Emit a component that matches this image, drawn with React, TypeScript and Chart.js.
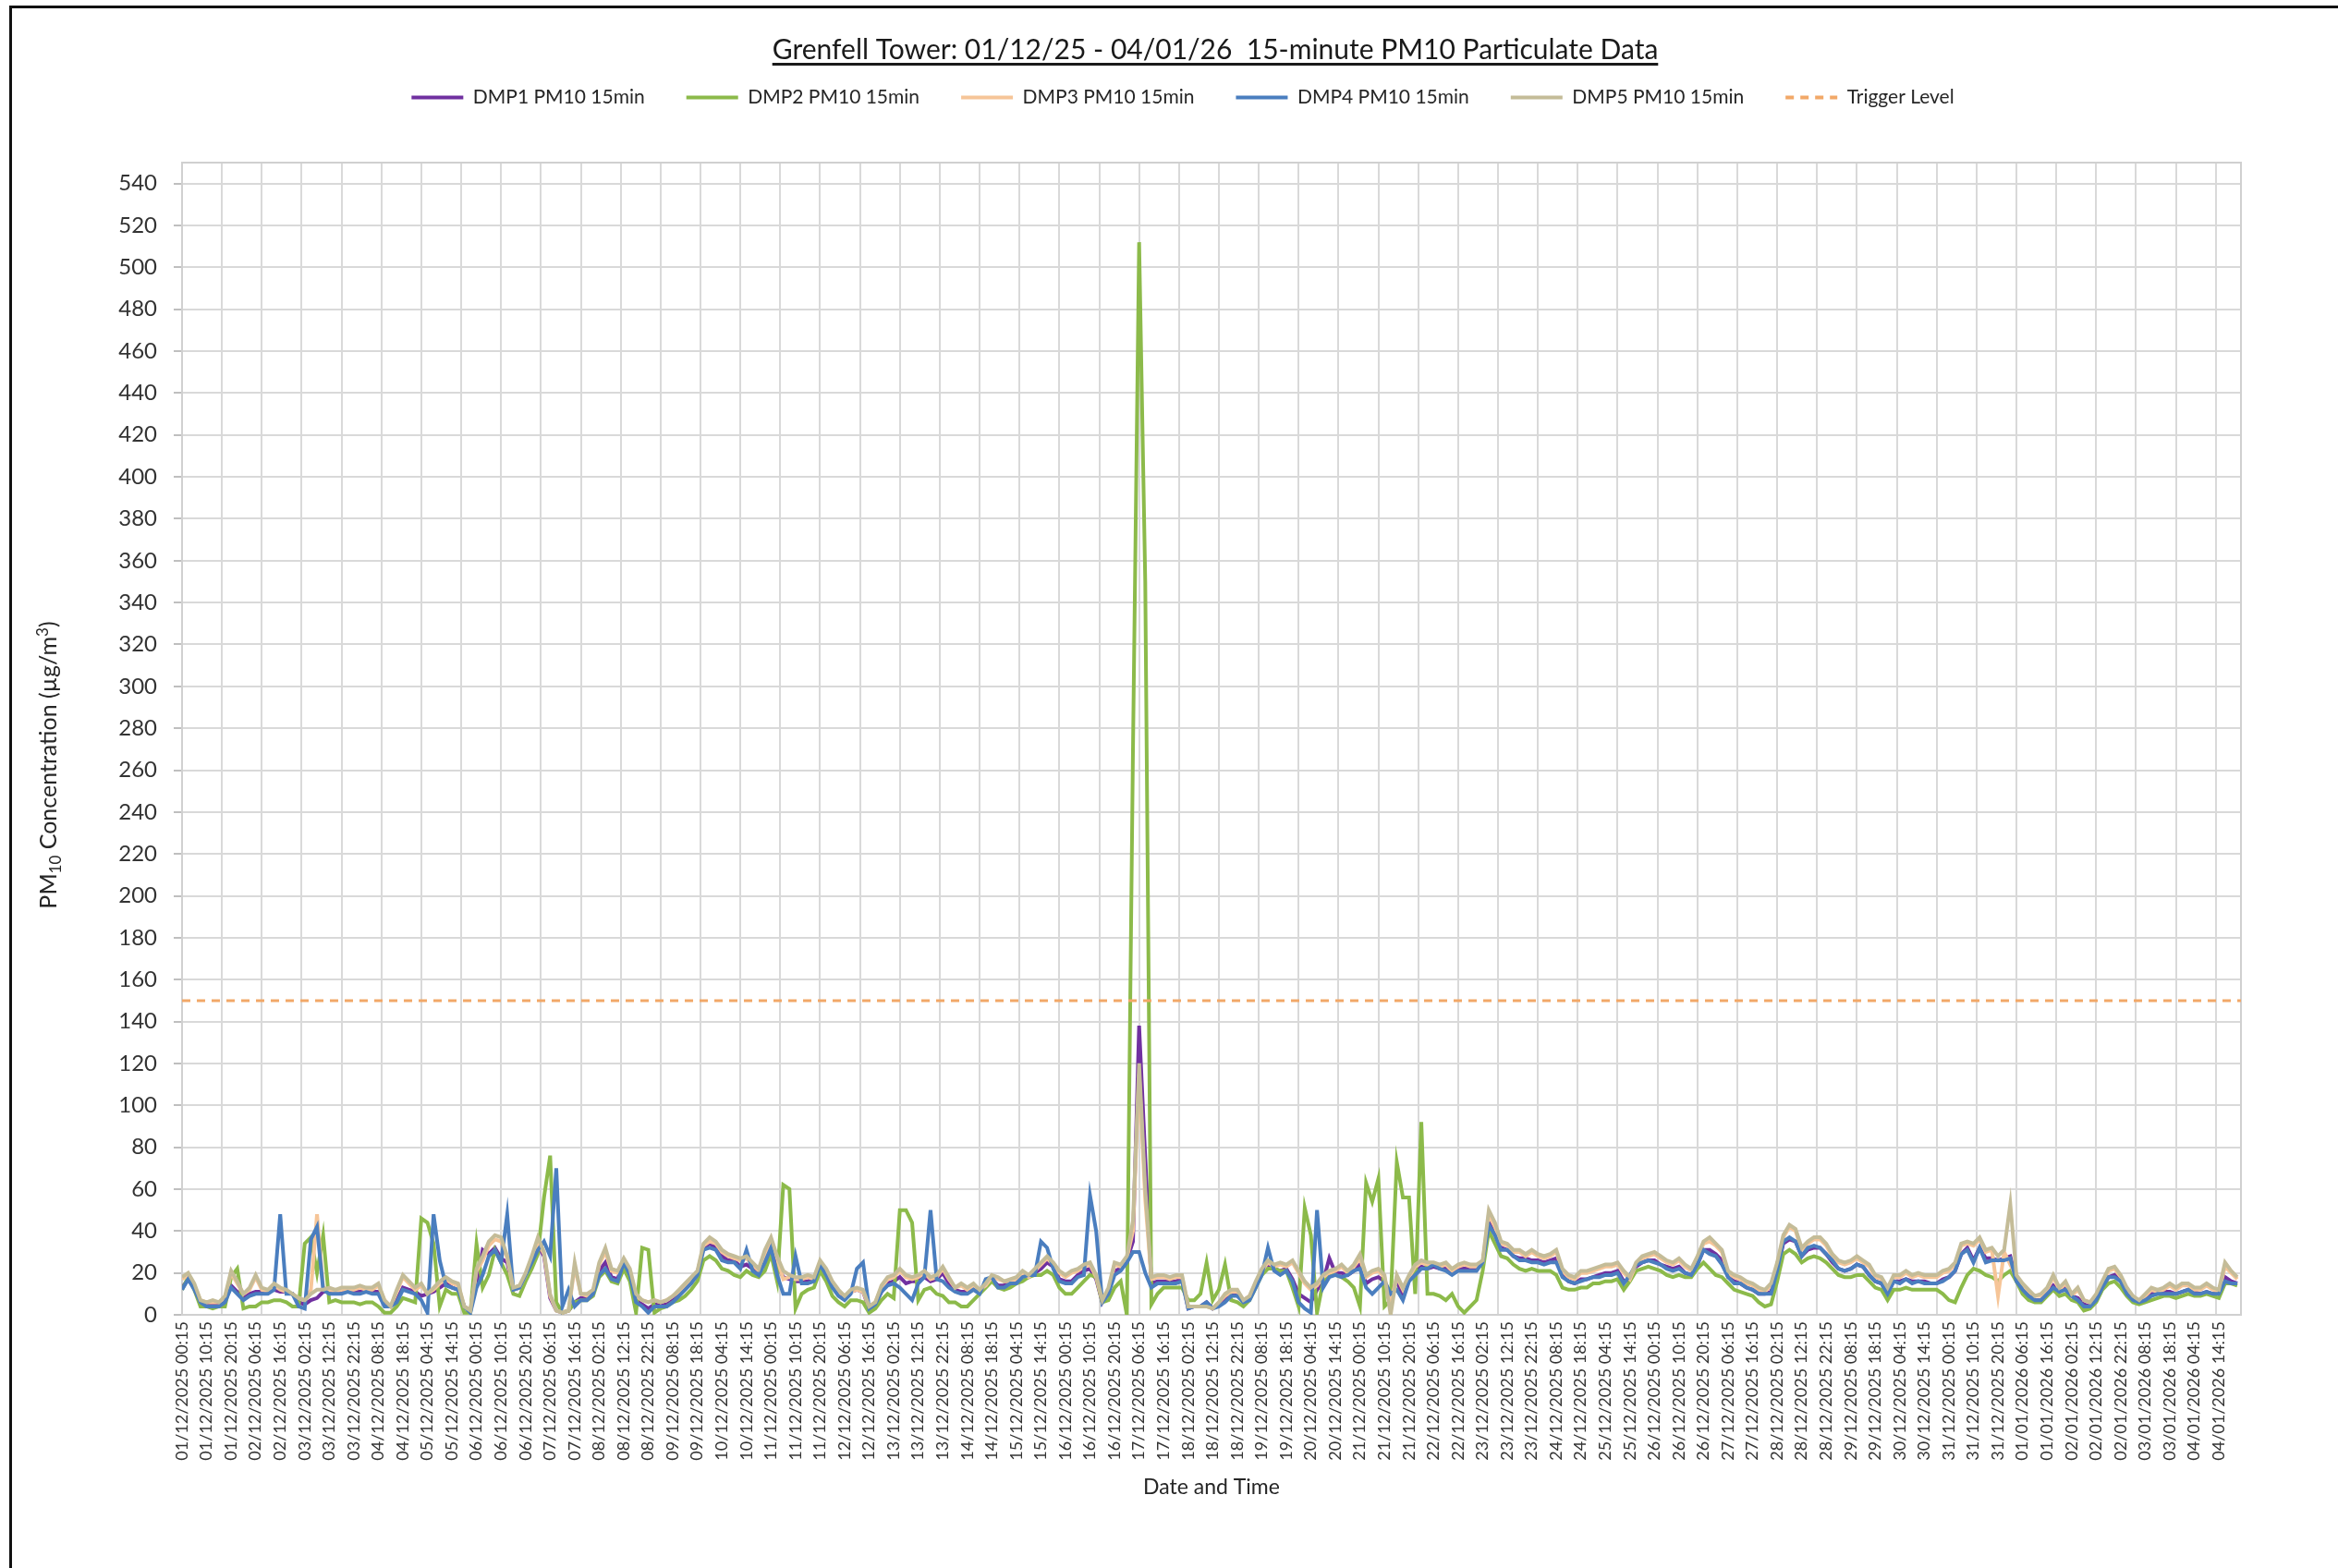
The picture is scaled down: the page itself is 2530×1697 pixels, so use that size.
import React, { useEffect, useRef } from 'react';
import { Chart, registerables } from 'chart.js';

Chart.register(...registerables);

const FONT = 'Lato, "Liberation Sans", sans-serif';

const chartTitle = 'Grenfell Tower: 01/12/25 - 04/01/26  15-minute PM10 Particulate Data';
const xAxisTitle = 'Date and Time';
const seriesLabels = ['DMP1 PM10 15min', 'DMP2 PM10 15min', 'DMP3 PM10 15min', 'DMP4 PM10 15min', 'DMP5 PM10 15min', 'Trigger Level'];

// sampling of the series (hours since 01/12/2025 00:15)
const sampleHours = 2.5;
const axisEndHours = 839;
const labelStepHours = 10;
const gridStepHours = 16.25;
const yMax = 550;
const yTicks = [0, 20, 40, 60, 80, 100, 120, 140, 160, 180, 200, 220, 240, 260, 280, 300, 320, 340, 360, 380, 400, 420, 440, 460, 480, 500, 520, 540];
const triggerLevel = 150;

const xTickLabels = [
  '01/12/2025 00:15', '01/12/2025 10:15', '01/12/2025 20:15', '02/12/2025 06:15', '02/12/2025 16:15', '03/12/2025 02:15',
  '03/12/2025 12:15', '03/12/2025 22:15', '04/12/2025 08:15', '04/12/2025 18:15', '05/12/2025 04:15', '05/12/2025 14:15',
  '06/12/2025 00:15', '06/12/2025 10:15', '06/12/2025 20:15', '07/12/2025 06:15', '07/12/2025 16:15', '08/12/2025 02:15',
  '08/12/2025 12:15', '08/12/2025 22:15', '09/12/2025 08:15', '09/12/2025 18:15', '10/12/2025 04:15', '10/12/2025 14:15',
  '11/12/2025 00:15', '11/12/2025 10:15', '11/12/2025 20:15', '12/12/2025 06:15', '12/12/2025 16:15', '13/12/2025 02:15',
  '13/12/2025 12:15', '13/12/2025 22:15', '14/12/2025 08:15', '14/12/2025 18:15', '15/12/2025 04:15', '15/12/2025 14:15',
  '16/12/2025 00:15', '16/12/2025 10:15', '16/12/2025 20:15', '17/12/2025 06:15', '17/12/2025 16:15', '18/12/2025 02:15',
  '18/12/2025 12:15', '18/12/2025 22:15', '19/12/2025 08:15', '19/12/2025 18:15', '20/12/2025 04:15', '20/12/2025 14:15',
  '21/12/2025 00:15', '21/12/2025 10:15', '21/12/2025 20:15', '22/12/2025 06:15', '22/12/2025 16:15', '23/12/2025 02:15',
  '23/12/2025 12:15', '23/12/2025 22:15', '24/12/2025 08:15', '24/12/2025 18:15', '25/12/2025 04:15', '25/12/2025 14:15',
  '26/12/2025 00:15', '26/12/2025 10:15', '26/12/2025 20:15', '27/12/2025 06:15', '27/12/2025 16:15', '28/12/2025 02:15',
  '28/12/2025 12:15', '28/12/2025 22:15', '29/12/2025 08:15', '29/12/2025 18:15', '30/12/2025 04:15', '30/12/2025 14:15',
  '31/12/2025 00:15', '31/12/2025 10:15', '31/12/2025 20:15', '01/01/2026 06:15', '01/01/2026 16:15', '02/01/2026 02:15',
  '02/01/2026 12:15', '02/01/2026 22:15', '03/01/2026 08:15', '03/01/2026 18:15', '04/01/2026 04:15', '04/01/2026 14:15',
];

// values every 2.5 hours, µg/m³
const dmp1 = [
  13,17,13,6,5,5,5,7,14,11, 8,10,11,11,11,12,11,11,10,6, 5,7,8,11,11,11,11,12,11,11, 12,11,11,5,4,7,13,12,11,9,
  10,11,13,15,13,12,4,2,15,31, 29,32,27,25,12,13,19,26,33,28, 8,2,1,2,6,8,8,11,21,25, 18,17,26,20,7,5,3,5,5,5,
  7,10,13,16,20,32,34,32,28,26, 26,23,24,22,20,27,33,24,18,17, 16,16,16,17,24,20,14,10,8,11, 12,11,3,5,11,15,16,18,15,16,
  16,18,16,17,20,15,12,11,11,13, 11,15,17,14,14,16,16,19,18,20, 22,25,23,17,16,16,19,21,22,17, 6,11,21,22,26,35,138,75,15,16,
  16,16,16,17,3,4,4,6,3,5, 8,10,10,6,8,14,20,24,22,21, 22,17,10,8,6,12,16,27,20,20, 19,21,24,15,17,18,16,10,16,9,
  17,20,23,22,23,22,22,20,22,22, 22,22,25,44,39,32,31,28,27,27, 26,26,25,26,27,19,16,15,17,17, 18,19,20,20,21,16,17,23,25,26,
  26,24,23,22,23,20,19,24,31,31, 29,26,18,16,15,13,12,10,10,11, 21,34,36,35,28,31,32,32,29,25, 22,21,22,24,23,19,16,15,10,16,
  16,17,16,16,16,15,15,17,18,21, 29,32,26,32,27,27,26,27,28,16, 12,10,7,7,10,14,11,13,9,8, 5,4,8,13,18,19,16,10,7,6,
  8,10,10,11,11,10,11,12,11,10, 11,10,10,18,16,15,
];

const dmp2 = [
  12,18,12,4,4,3,4,4,18,22, 3,4,4,6,6,7,7,6,4,4, 34,37,20,38,6,7,6,6,6,5, 6,6,4,1,1,4,8,7,6,46,
  44,34,4,12,10,10,1,1,34,13, 19,31,25,19,10,9,16,22,29,56, 76,6,1,2,6,7,7,9,18,21, 16,15,22,16,1,32,31,1,3,4,
  6,7,9,12,16,26,28,26,22,21, 19,18,21,19,18,21,29,16,62,60, 3,10,12,13,21,16,9,6,4,7, 7,6,1,3,7,10,8,50,50,44,
  7,12,13,10,9,6,6,4,4,7, 10,13,16,13,12,13,15,16,18,19, 19,21,19,13,10,10,13,16,19,18, 6,7,13,16,0,270,512,350,5,10,
  13,13,13,13,7,7,10,25,7,12, 24,7,6,4,7,13,19,22,22,21, 21,13,4,51,38,1,16,19,19,18, 16,13,4,63,54,65,4,7,73,56,
  56,10,92,10,10,9,7,10,4,1, 4,7,21,40,34,28,27,24,22,21, 22,21,21,21,19,13,12,12,13,13, 15,15,16,16,17,12,16,21,22,23,
  22,21,19,18,19,18,18,22,25,22, 19,18,15,12,11,10,9,6,4,5, 16,29,31,29,25,27,28,27,25,22, 19,18,18,19,19,16,13,12,7,12,
  12,13,12,12,12,12,12,10,7,6, 13,19,22,21,19,18,16,19,21,16, 10,7,6,6,9,12,9,10,7,6, 2,3,6,12,15,16,13,9,6,5,
  6,7,8,9,9,8,9,10,9,9, 10,9,8,15,15,14,
];

const dmp3 = [
  17,19,14,7,6,6,6,8,20,15, 10,12,18,12,11,14,12,11,10,8, 7,12,48,13,12,11,12,12,12,13, 12,12,14,7,4,11,18,15,12,14,
  10,12,15,17,15,14,4,2,21,26, 33,36,35,27,12,13,19,27,35,29, 9,2,1,2,23,10,9,11,24,30, 21,20,26,21,9,7,6,7,6,7,
  9,11,14,17,20,33,35,34,30,28, 27,26,27,24,21,29,35,27,17,18, 17,17,18,17,25,21,15,11,9,11, 12,11,4,6,13,17,18,21,18,17,
  18,20,17,18,22,17,13,14,12,14, 12,14,18,17,16,16,17,20,18,21, 24,27,24,20,18,20,21,23,24,18, 7,12,24,23,27,40,115,55,17,18,
  18,17,18,18,4,4,4,4,3,6, 9,11,11,7,9,15,21,25,23,24, 23,25,20,15,12,14,18,20,21,23, 20,23,27,18,20,21,18,6,18,12,
  18,23,25,24,24,23,24,21,23,24, 23,23,25,48,42,34,33,30,30,28, 30,28,27,28,30,21,18,17,20,20, 21,22,23,23,24,20,17,24,27,28,
  29,27,25,24,26,23,21,27,34,35, 33,30,20,18,17,15,14,12,11,14, 24,37,42,40,31,34,36,36,33,28, 25,24,25,27,25,23,18,17,12,18,
  18,20,18,19,18,18,18,20,21,24, 33,34,33,36,30,31,9,30,24,18, 14,11,9,9,12,18,12,15,9,12, 7,6,9,15,21,22,18,12,8,7,
  9,12,11,12,14,12,14,14,12,12, 14,12,11,23,20,17,
];

const dmp4 = [
  12,17,12,6,4,4,4,6,13,10, 7,9,10,10,10,12,48,10,10,4, 3,36,42,12,10,10,10,11,10,10, 11,10,10,4,4,6,12,11,10,7,
  1,48,26,14,13,12,4,1,13,19, 28,31,25,48,12,13,19,25,31,35, 28,70,4,12,4,7,7,10,19,22, 17,16,25,19,6,4,1,4,4,4,
  6,9,12,15,19,31,32,31,26,25, 25,22,31,21,19,25,32,19,10,10, 28,15,15,16,24,19,13,9,7,10, 22,25,3,5,11,14,15,13,10,7,
  15,18,50,17,16,13,11,10,10,12, 10,17,18,13,13,15,15,18,19,19, 35,32,22,16,15,15,18,19,57,40, 6,10,19,21,25,30,30,20,13,15,
  15,15,15,16,3,4,4,6,3,4, 6,9,9,6,7,13,19,32,21,19, 21,16,6,3,1,50,13,18,19,18, 19,21,22,13,10,13,16,10,12,7,
  16,19,22,22,24,22,21,19,21,21, 21,21,25,43,38,31,31,28,26,26, 25,25,24,25,25,18,16,15,16,17, 18,18,19,19,20,15,19,24,25,26,
  25,24,22,21,22,20,19,24,31,29, 28,24,18,15,15,13,12,10,10,10, 21,35,37,35,28,32,33,32,29,26, 22,21,22,24,23,19,16,15,10,16,
  15,17,15,16,15,15,15,16,18,21, 29,31,25,32,25,26,26,26,27,16, 12,9,7,7,10,13,11,12,9,7, 4,4,7,13,18,18,16,10,7,6,
  7,9,10,10,10,10,11,12,10,10, 11,10,10,16,15,15,
];

const dmp5 = [
  18,20,15,7,6,7,6,9,21,16, 10,13,19,13,12,15,13,12,10,8, 7,10,12,12,13,12,13,13,13,14, 13,13,15,7,4,12,19,16,13,15,
  10,13,16,18,16,15,4,2,22,28, 35,38,37,28,13,14,20,28,37,30, 10,2,1,2,25,10,10,12,25,32, 22,21,27,22,10,7,6,7,6,7,
  9,12,15,18,21,34,37,35,31,29, 28,27,28,25,22,31,37,28,21,19, 18,18,19,18,26,22,16,12,9,12, 13,12,4,6,14,18,19,22,19,18,
  19,21,18,19,23,18,13,15,13,15, 12,15,19,18,16,17,18,21,19,22, 25,28,25,21,19,21,22,24,25,19, 7,13,25,24,28,45,120,60,18,19,
  19,18,19,19,4,4,4,4,3,6, 10,12,12,7,9,16,22,26,24,25, 24,26,21,16,13,15,19,21,22,24, 21,24,29,19,21,22,19,0,19,13,
  19,24,26,25,25,24,25,22,24,25, 24,24,26,50,44,35,34,31,31,29, 31,29,28,29,31,22,19,18,21,21, 22,23,24,24,25,21,18,25,28,29,
  30,28,26,25,27,24,22,28,35,37, 34,31,21,19,18,16,15,13,12,15, 25,38,43,41,32,35,37,37,34,29, 26,25,26,28,26,24,19,18,13,19,
  19,21,19,20,19,19,19,21,22,25, 34,35,34,37,31,32,28,31,53,19, 15,12,9,10,13,19,13,16,10,13, 7,6,10,16,22,23,19,13,9,7,
  10,13,12,13,15,13,15,15,13,13, 15,13,12,25,21,18,
];

const seriesColors = ['#7030A0', '#8CBA4A', '#F6C598', '#4A7EBF', '#C4BC98', '#F2A868'];

const toPoints = (vals: number[]) => vals.map((y, i) => ({ x: i * sampleHours, y }));

const decorPlugin = {
  id: 'decor',
  beforeDraw(chart: any) {
    const ctx = chart.ctx;
    ctx.save();
    ctx.fillStyle = '#ffffff';
    ctx.fillRect(0, 0, chart.width, chart.height);
    ctx.restore();
  },
  beforeDatasetsDraw(chart: any) {
    const { ctx, chartArea } = chart;
    ctx.save();
    ctx.strokeStyle = '#D0D0D0';
    ctx.lineWidth = 2;
    ctx.strokeRect(chartArea.left, chartArea.top, chartArea.right - chartArea.left, chartArea.bottom - chartArea.top);
    ctx.restore();
  },
  afterDraw(chart: any) {
    const ctx = chart.ctx;
    ctx.save();
    // outer frame (left and top edges visible)
    ctx.strokeStyle = '#111111';
    ctx.lineWidth = 3;
    ctx.strokeRect(11.5, 7.5, 2560, 1720);

    // chart title, underlined
    ctx.fillStyle = '#1a1a1a';
    ctx.font = `30px ${FONT}`;
    ctx.textAlign = 'center';
    ctx.textBaseline = 'alphabetic';
    const tx = 1315;
    const ty = 64;
    ctx.fillText(chartTitle, tx, ty);
    const tw = ctx.measureText(chartTitle).width;
    ctx.fillRect(tx - tw / 2, ty + 4, tw, 3);

    // y axis title with subscript / superscript
    const parts = [
      { t: 'PM', size: 25, dy: 0 },
      { t: '10', size: 17, dy: 5 },
      { t: ' Concentration (µg/m', size: 25, dy: 0 },
      { t: '3', size: 17, dy: -9 },
      { t: ')', size: 25, dy: 0 },
    ];
    let total = 0;
    const widths = parts.map((p) => {
      ctx.font = `${p.size}px ${FONT}`;
      const w = ctx.measureText(p.t).width;
      total += w;
      return w;
    });
    ctx.translate(53, 828);
    ctx.rotate(-Math.PI / 2);
    ctx.textAlign = 'left';
    ctx.fillStyle = '#262626';
    let cx = -total / 2;
    parts.forEach((p, i) => {
      ctx.font = `${p.size}px ${FONT}`;
      ctx.fillText(p.t, cx, 8 + p.dy);
      cx += widths[i];
    });
    ctx.restore();
  },
};

export default function App() {
  const canvasRef = useRef<HTMLCanvasElement | null>(null);

  useEffect(() => {
    const canvas = canvasRef.current;
    if (!canvas) return;
    const lineSeries = [dmp1, dmp2, dmp3, dmp4, dmp5];
    const orders = [4, 3, 2, 1, 0];
    const datasets: any[] = lineSeries.map((vals, i) => ({
      label: seriesLabels[i],
      data: toPoints(vals),
      borderColor: seriesColors[i],
      backgroundColor: seriesColors[i],
      borderWidth: 4,
      pointRadius: 0,
      tension: 0,
      order: orders[i],
    }));
    datasets.push({
      label: seriesLabels[5],
      data: [
        { x: 0, y: triggerLevel },
        { x: axisEndHours, y: triggerLevel },
      ],
      borderColor: seriesColors[5],
      backgroundColor: seriesColors[5],
      borderWidth: 3,
      borderDash: [9, 7],
      pointRadius: 0,
      order: -1,
    });

    const chart = new Chart(canvas, {
      type: 'line',
      data: { datasets },
      options: {
        responsive: false,
        animation: false,
        devicePixelRatio: 1,
        layout: { padding: { left: 40, right: 10, top: 50, bottom: 74 } },
        plugins: {
          title: { display: false },
          tooltip: { enabled: false },
          legend: {
            position: 'top',
            align: 'center',
            labels: {
              usePointStyle: true,
              pointStyle: 'line',
              pointStyleWidth: 56,
              padding: 45,
              color: '#262626',
              font: { family: FONT, size: 21 },
              sort: (a: any, b: any) => a.datasetIndex - b.datasetIndex,
              generateLabels: (c: any) => {
                const items = (Chart.defaults as any).plugins.legend.labels.generateLabels(c);
                return items.map((it: any) => {
                  const ds = c.data.datasets[it.datasetIndex];
                  return {
                    ...it,
                    pointStyle: 'line',
                    lineWidth: 4,
                    strokeStyle: ds.borderColor,
                    fillStyle: ds.borderColor,
                    lineDash: ds.borderDash || [],
                  };
                });
              },
            },
          },
        },
        scales: {
          x: {
            type: 'linear',
            position: 'bottom',
            min: 0,
            max: axisEndHours,
            afterBuildTicks: (axis: any) => {
              axis.ticks = xTickLabels.map((_, i) => ({ value: i * labelStepHours }));
            },
            afterFit: (axis: any) => {
              axis.height = 200;
            },
            ticks: {
              autoSkip: false,
              minRotation: 90,
              maxRotation: 90,
              padding: 7,
              color: '#333333',
              font: { family: FONT, size: 18 },
              callback: (_v: any, i: number) => xTickLabels[i],
            },
            grid: { display: false, drawTicks: false },
            border: { display: true, color: '#A6A6A6', width: 2 },
            title: {
              display: true,
              text: xAxisTitle,
              color: '#262626',
              font: { family: FONT, size: 23 },
              padding: { top: 0, bottom: 0 },
            },
          },
          xg: {
            type: 'linear',
            position: 'top',
            min: 0,
            max: axisEndHours,
            afterBuildTicks: (axis: any) => {
              const t: any[] = [];
              for (let v = 0; v <= axisEndHours; v += gridStepHours) t.push({ value: v });
              axis.ticks = t;
            },
            afterFit: (axis: any) => {
              axis.height = 50;
            },
            ticks: { display: false },
            grid: { color: '#D9D9D9', lineWidth: 2, drawTicks: false },
            border: { display: false },
          },
          y: {
            type: 'linear',
            min: 0,
            max: yMax,
            afterBuildTicks: (axis: any) => {
              axis.ticks = yTicks.map((v) => ({ value: v }));
            },
            afterFit: (axis: any) => {
              axis.width = 157;
            },
            ticks: { padding: 18, color: '#333333', font: { family: FONT, size: 24 } },
            grid: { color: '#D9D9D9', lineWidth: 2, tickLength: 9, tickColor: '#BFBFBF' },
            border: { display: true, color: '#A6A6A6', width: 2 },
          },
          yr: {
            type: 'linear',
            position: 'right',
            min: 0,
            max: yMax,
            afterFit: (axis: any) => {
              axis.width = 95;
            },
            ticks: { display: false },
            grid: { display: false },
            border: { display: false },
          },
        },
      } as any,
      plugins: [decorPlugin],
    });

    return () => {
      chart.destroy();
    };
  }, []);

  return (
    <div style={{ position: 'absolute', left: 0, top: 0, width: 2530, height: 1697, background: '#ffffff' }}>
      <canvas ref={canvasRef} width={2530} height={1697} style={{ display: 'block', width: 2530, height: 1697 }} />
    </div>
  );
}
